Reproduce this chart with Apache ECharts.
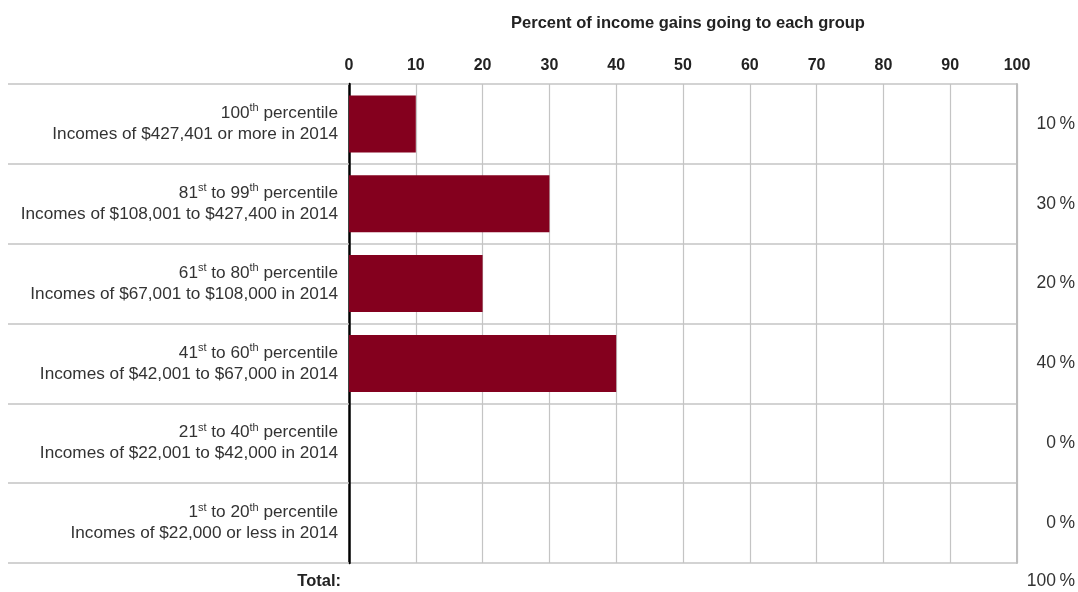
<!DOCTYPE html>
<html><head><meta charset="utf-8">
<script src="https://cdn.jsdelivr.net/npm/echarts@6/dist/echarts.min.js"></script>
<style>html,body{margin:0;padding:0;background:#fff}#c{width:1078px;height:592px}</style>
</head><body><div id="c"></div>
<script>
const rankLabels = ['100^th^ percentile','81^st^ to 99^th^ percentile','61^st^ to 80^th^ percentile','41^st^ to 60^th^ percentile','21^st^ to 40^th^ percentile','1^st^ to 20^th^ percentile'];
const incomeLabels = ['Incomes of $427,401 or more in 2014','Incomes of $108,001 to $427,400 in 2014','Incomes of $67,001 to $108,000 in 2014','Incomes of $42,001 to $67,000 in 2014','Incomes of $22,001 to $42,000 in 2014','Incomes of $22,000 or less in 2014'];
const shares = [10, 30, 20, 40, 0, 0];
const axisTitle = 'Percent of income gains going to each group';
const totalLabel = 'Total:';

const FONT = '"Liberation Sans", Arial, sans-serif';
const categories = rankLabels.map((r, i) => i);
const fmtRank = s => '{n|' + s.replace(/\^(\w+)\^/g, '}{s|$1}{n|') + '}';
const total = shares.reduce((a, b) => a + b, 0);

const chart = echarts.init(document.getElementById('c'), null, {renderer: 'canvas'});
chart.setOption({
  animation: false,
  backgroundColor: '#fff',
  grid: {left: 349, right: 61, top: 84, bottom: 29, containLabel: false},
  title: {text: axisTitle, left: 683, top: 10, textAlign: 'center',
    textStyle: {fontFamily: FONT, fontSize: 16.5, fontWeight: 'bold', color: '#222'}},
  xAxis: {type: 'value', position: 'top', min: 0, max: 100, interval: 10,
    axisLine: {show: false}, axisTick: {show: false},
    axisLabel: {margin: 10, fontFamily: FONT, fontSize: 16, fontWeight: 'bold', color: '#222'},
    splitLine: {show: true, lineStyle: {color: '#c4c4c4', width: 1.2}}},
  yAxis: [
    {type: 'category', inverse: true, data: categories, position: 'left',
      axisLine: {show: true, lineStyle: {color: '#000', width: 2.5}},
      axisTick: {show: true, length: 341, lineStyle: {color: '#c4c4c4', width: 1.5}},
      splitLine: {show: true, lineStyle: {color: '#c4c4c4', width: 1.5}},
      axisLabel: {margin: 11, align: 'right',
        formatter: (v, i) => fmtRank(rankLabels[i]) + '\n{n|' + incomeLabels[i] + '}',
        rich: {
          n: {fontFamily: FONT, fontSize: 17.2, lineHeight: 21, color: '#333'},
          s: {fontFamily: FONT, fontSize: 11, lineHeight: 21, verticalAlign: 'top', padding: [0, 0, 4, 0], color: '#333'}
        }}},
    {type: 'category', inverse: true, data: shares.map(v => v + '\u2009%'), position: 'right',
      axisLine: {show: true, lineStyle: {color: '#bdbdbd', width: 2}}, axisTick: {show: false},
      axisLabel: {margin: 58, align: 'right', fontFamily: FONT, fontSize: 17.5, color: '#333'}}
  ],
  graphic: [
    {type: 'text', x: 341, y: 581, style: {text: totalLabel, align: 'right', verticalAlign: 'middle', font: 'bold 16.5px ' + FONT, fill: '#222'}},
    {type: 'text', x: 1075, y: 581, style: {text: total + '\u2009%', align: 'right', verticalAlign: 'middle', font: '17.5px ' + FONT, fill: '#333'}}
  ],
  series: [{type: 'bar', data: shares, barWidth: 57, yAxisIndex: 0,
    itemStyle: {color: '#84001e'}}]
});
</script></body></html>
